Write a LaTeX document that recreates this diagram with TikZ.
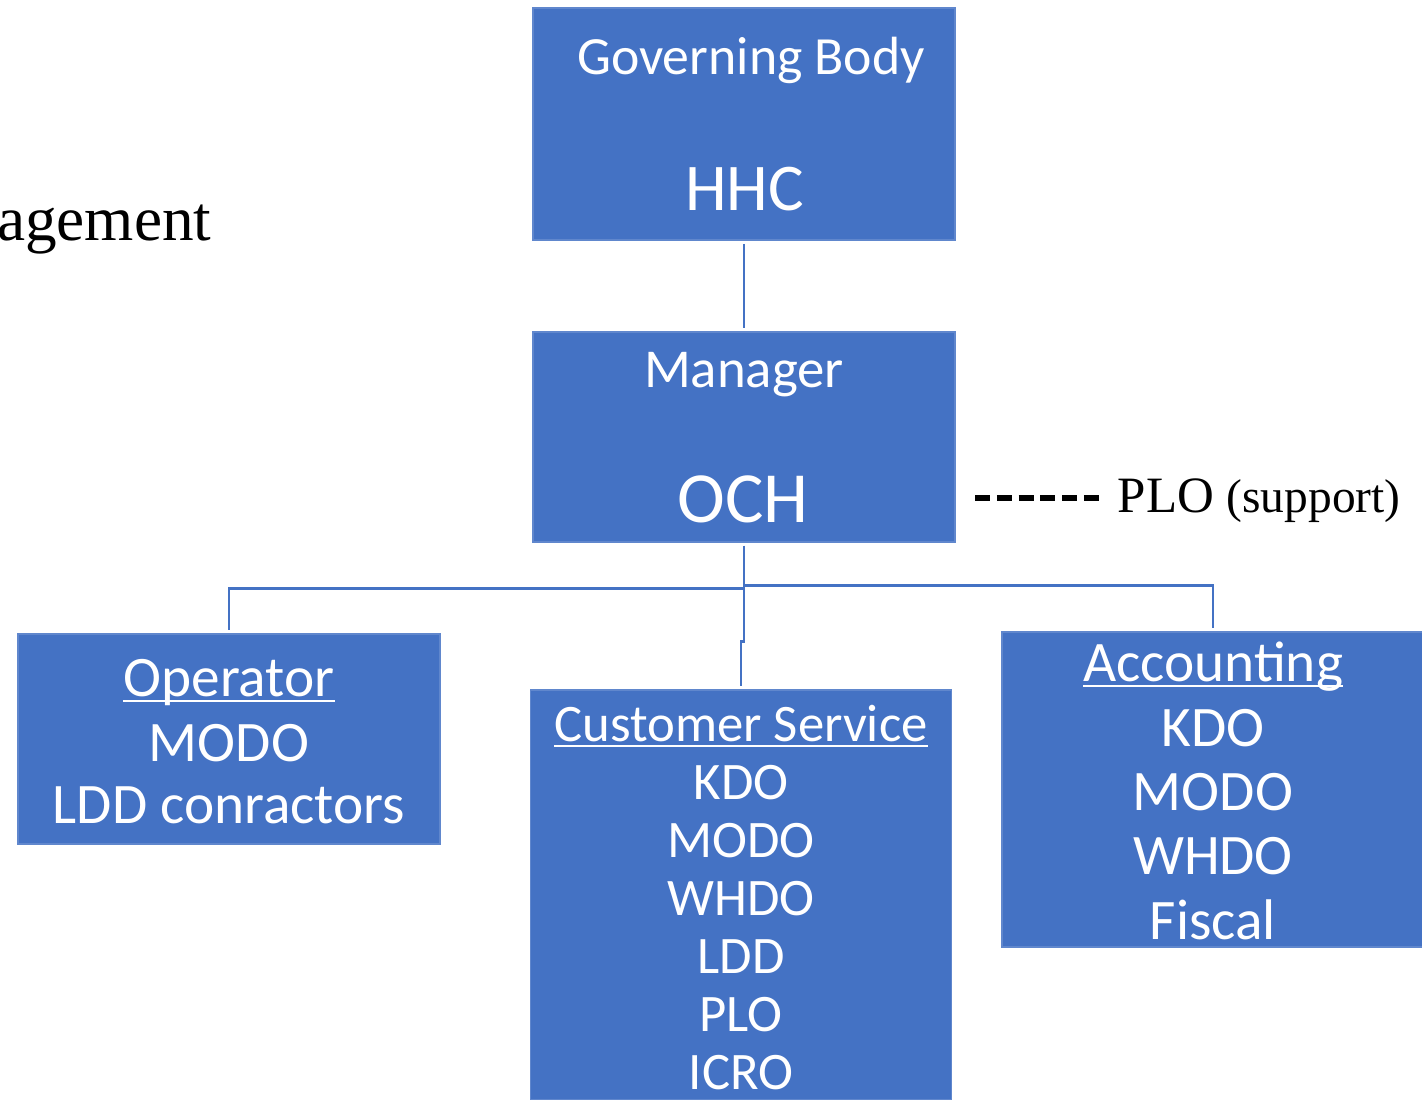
\documentclass[tikz,border=0pt]{standalone}
\usepackage{fontspec}
\setmainfont{Carlito}
\newfontfamily\serifface{Liberation Serif}
\usetikzlibrary{positioning}
\definecolor{boxblue}{RGB}{68,114,196}
\newcommand{\ulword}[1]{\setbox0\hbox{#1}\rlap{\rule[-1.4pt]{\wd0}{0.6pt}}\box0}

\begin{document}
\begin{tikzpicture}[
    box/.style={fill=boxblue, draw=boxblue!85!white, line width=0.4pt, minimum width=4.22cm, inner sep=0pt},
    txt/.style={text=white, anchor=base, inner sep=0pt},
    link/.style={draw=boxblue, line width=0.8pt, shorten <=0.9pt, shorten >=0.9pt}]
            \useasboundingbox (0,0) rectangle (14.22,11);

            % Cajas
            \node[box, minimum height=2.32cm] (gov) at (7.44,9.76) {};
            \node[box, minimum height=2.10cm] (mgr) at (7.44,6.63) {};
            \node[box, minimum height=2.10cm] (op) at (2.29,3.61) {};
            \node[box, minimum width=4.21cm, minimum height=4.10cm] (cs) at (7.41,2.05) {};
            \node[box, minimum height=3.15cm] (acc) at (12.13,3.105) {};

            % Textos
            \node[txt, font=\fontsize{15.3}{18}\selectfont] (govname) at (7.51,10.25) {Governing Body};
            \node[txt, font=\fontsize{19}{23}\selectfont] (hhc) at (7.445,8.89) {HHC};
            \node[txt, font=\fontsize{15.6}{19}\selectfont] (mgrname) at (7.44,7.12) {Manager};
            \node[txt, font=\fontsize{20.5}{24}\selectfont] (och) at (7.43,5.77) {OCH};

            \node[txt, font=\fontsize{16.3}{19}\selectfont] (opname) at (2.29,4.03) {\ulword{Operator}};
            \node[txt, font=\fontsize{16.3}{19}\selectfont] (op1) at (2.29,3.38) {MODO};
            \node[txt, font=\fontsize{16.3}{19}\selectfont] (op2) at (2.29,2.76) {LDD conractors};

            \node[txt, font=\fontsize{15}{18}\selectfont] (csname) at (7.41,3.58) {\ulword{Customer Service}};
            \foreach \name [count=\i] in {KDO,MODO,WHDO,LDD,PLO,ICRO}
              \node[txt, font=\fontsize{15}{18}\selectfont] (cs\i) at (7.41,3.58-0.58*\i) {\name};

            \node[txt, font=\fontsize{16.3}{20}\selectfont] (accname) at (12.13,4.18) {\ulword{Accounting}};
            \foreach \name [count=\i] in {KDO,MODO,WHDO,Fiscal}
              \node[txt, font=\fontsize{16.3}{20}\selectfont] (acc\i) at (12.13,4.18-0.643*\i) {\name};

            \node[anchor=base east, inner sep=0pt, font=\serifface\fontsize{18}{22}\selectfont] (mgmt) at (2.12,8.59) {agement};
            \node[anchor=base west, inner sep=0pt, font=\serifface\fontsize{14.5}{17}\selectfont] (plo) at (11.17,5.87) {PLO {\fontsize{13.5}{16}\selectfont(support)}};
            \coordinate (dashstart) at (9.75,6.02);

            % Lineas
            \draw[link] (gov) -- (mgr);
            \draw[link] (mgr.south) -- ++(0,-0.99) -| (cs.north);
            \draw[link] (mgr.south) -- ++(0,-0.46) -| (op.north);
            \draw[link] (mgr.south) -- ++(0,-0.43) -| (acc.north);
            \draw[line width=1.5pt, dash pattern=on 4.3pt off 1.9pt, shorten >=0.18cm] (dashstart) -- (dashstart -| plo.west);
          \end{tikzpicture}
\end{document}
